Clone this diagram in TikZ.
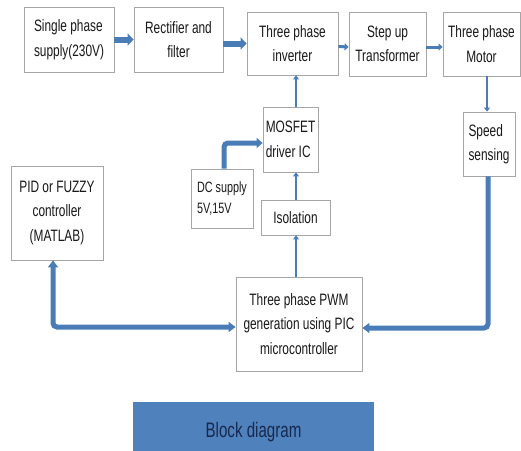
\documentclass[tikz,border=0pt]{standalone}
\usepackage{fontspec}
\setmainfont{Liberation Sans}[FakeStretch=0.72]
\usetikzlibrary{arrows.meta,calc}
\definecolor{arr}{HTML}{4A7DB8}
\definecolor{bfill}{HTML}{4F81BD}
\definecolor{btext}{HTML}{17294D}
\definecolor{bord}{HTML}{A6A6A6}
\tikzset{
  box/.style={draw=bord, line width=0.8pt, fill=white, align=center, inner sep=1pt,
    font=\fontsize{16.5}{24.5}\selectfont, text=black!90},
  lbox/.style={box, align=left},
  fat/.style={draw=arr, line width=6pt, -{Triangle[length=6pt,width=12pt]}},
  mid/.style={draw=arr, line width=3pt, -{Triangle[length=4pt,width=7pt]}},
  thin/.style={draw=arr, line width=2pt, -{Triangle[length=4pt,width=6pt]}},
  fb/.style={draw=arr, line width=5pt, rounded corners=4pt}
}
\begin{document}
\begin{tikzpicture}[x=1pt,y=-1pt]
\useasboundingbox (0,0) rectangle (521,450);
\node[box, minimum width=90pt, minimum height=65pt, align=left] (sup) at (69,39.5) {Single phase\\supply(230V)};
\node[box, minimum width=89pt, minimum height=65pt] (rec) at (178.5,39.5) {Rectifier and\\filter};
\node[box, minimum width=91pt, minimum height=63pt] (inv) at (292.5,43.5) {Three phase\\inverter};
\node[box, minimum width=77pt, minimum height=64pt] (stp) at (387.5,44) {Step up\\Transformer};
\node[box, minimum width=77pt, minimum height=64pt] (mot) at (481.5,44) {Three phase\\Motor};
\node[lbox, minimum width=52pt, minimum height=64pt] (spd) at (489,144) {Speed\\sensing};
\node[lbox, minimum width=55pt, minimum height=65pt] (mos) at (290.5,139.5) {MOSFET\\driver IC};
\node[lbox, minimum width=62pt, minimum height=59pt, font=\fontsize{15}{21}\selectfont] (dc) at (222,198.5) {DC supply\\5V,15V};
\node[box, minimum width=69pt, minimum height=35pt] (iso) at (295.5,217.5) {Isolation};
\node[box, minimum width=92pt, minimum height=94pt] (pid) at (57,213) {PID or FUZZY\\controller\\(MATLAB)};
\node[box, minimum width=126pt, minimum height=94pt] (pwm) at (299,324) {Three phase PWM\\generation using PIC\\microcontroller};
\node[draw=none, fill=bfill, minimum width=241pt, minimum height=60pt, text=btext,
  font=\fontsize{21}{24}\selectfont] (blk) at (253.5,432) {Block diagram};

% top chain
\draw[fat] (sup.east) -- (rec.west);
\draw[fat] (rec.east |- inv.west) -- (inv.west);
\draw[mid] ($(inv.east)+(0,3)$) -- ($(stp.west)+(0,3)$);
\draw[mid] ($(stp.east)+(0,3)$) -- ($(mot.west)+(0,3)$);

% verticals
\coordinate (v1) at (296,0);
\coordinate (v2) at (487,0);
\draw[thin] (v1 |- mos.north) -- (v1 |- inv.south);
\draw[thin] (v1 |- iso.north) -- (v1 |- mos.south);
\draw[thin] (v1 |- pwm.north) -- (v1 |- iso.south);
\draw[thin] (v2 |- mot.south) -- (v2 |- spd.north);

% DC supply to MOSFET driver
\coordinate (c3) at (224,143);
\draw[fb, -{Triangle[length=6pt,width=10pt]}] (c3 |- dc.north) -- (c3) -- (c3 -| mos.west);

% feedback loops
\coordinate (c1) at (53,327);
\draw[fb, {Triangle[length=7pt,width=10pt]}-{Triangle[length=7pt,width=10pt]}] (c1 |- pid.south) -- (c1) -- (c1 -| pwm.west);
\coordinate (c2) at (488,328);
\draw[fb, -{Triangle[length=7pt,width=10pt]}] (c2 |- spd.south) -- (c2) -- (c2 -| pwm.east);
\end{tikzpicture}
\end{document}
